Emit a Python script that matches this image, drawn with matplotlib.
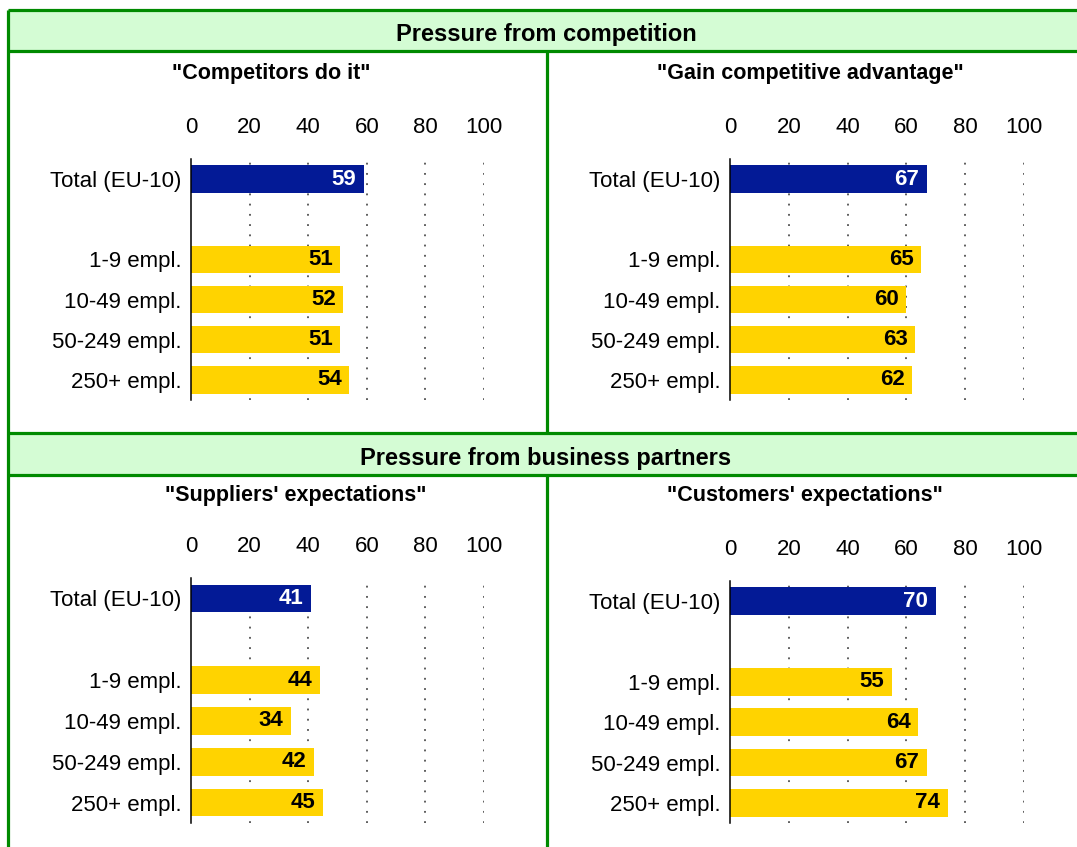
import matplotlib
matplotlib.use("Agg")
import matplotlib.pyplot as plt
from matplotlib.patches import Rectangle
from matplotlib.lines import Line2D

plt.rcParams['font.family'] = ['Liberation Sans', 'DejaVu Sans']

# ---- data ----
categories = ["Total (EU-10)", "", "1-9 empl.", "10-49 empl.", "50-249 empl.", "250+ empl."]
competitors_do_it = [59, None, 51, 52, 51, 54]
gain_advantage = [67, None, 65, 60, 63, 62]
suppliers_expect = [41, None, 44, 34, 42, 45]
customers_expect = [70, None, 55, 64, 67, 74]
x_ticks = [0, 20, 40, 60, 80, 100]

section_titles = ["Pressure from competition", "Pressure from business partners"]
panel_titles = ['"Competitors do it"', '"Gain competitive advantage"',
                '"Suppliers\' expectations"', '"Customers\' expectations"']

BLUE = "#031A96"
YELLOW = "#FFD300"
GREEN = "#008A00"
HEADER_FILL = "#D4FCD4"

W, H = 1077, 847
fig = plt.figure(figsize=(W / 100, H / 100), dpi=100)

# background layer in pixel coordinates for frames and headings
bg = fig.add_axes([0, 0, 1, 1])
bg.set_xlim(0, W)
bg.set_ylim(H, 0)
bg.axis("off")

for y0, y1 in [(10, 51), (433, 475)]:
    bg.add_patch(Rectangle((8, y0), W - 8, y1 - y0, facecolor=HEADER_FILL, edgecolor="none"))
lw = 2.3
for x0, y0, x1, y1 in [(8, 10, 8, H), (8, 10, W, 10), (8, 51, W, 51),
                       (8, 433, W, 433), (8, 475, W, 475),
                       (547, 51, 547, 433), (547, 475, 547, H)]:
    bg.add_line(Line2D([x0, x1], [y0, y1], color=GREEN, lw=lw, solid_capstyle="butt"))

bg.text(546, 34, section_titles[0], ha="center", va="center", fontsize=17, fontweight="bold")
bg.text(546, 459, section_titles[1], ha="center", va="center", fontsize=17, fontweight="bold")

title_pos = [(271, 74), (810, 74), (296, 496), (805, 496)]
for (tx, ty), t in zip(title_pos, panel_titles):
    bg.text(tx, ty, t, ha="center", va="center", fontsize=15.5, fontweight="bold")


def px_axes(x0, y0, x1, y1):
    return fig.add_axes([x0 / W, 1 - y1 / H, (x1 - x0) / W, (y1 - y0) / H])


def draw_panel(ax, values):
    n = len(categories)
    ax.set_xlim(0, 100)
    ax.set_ylim(n - 0.5, -0.5)
    for gx in x_ticks[1:]:
        ax.axvline(gx, color="#333333", lw=1.1, linestyle=(0, (1.2, 5.5)), zorder=1)
    for i, v in enumerate(values):
        if v is None:
            continue
        color = BLUE if i == 0 else YELLOW
        ax.barh(i, v, height=0.68, color=color, zorder=2)
        ax.annotate(str(v), (v, i), xytext=(-5.5, 0), textcoords="offset points",
                    ha="right", va="center", fontsize=16, fontweight="bold",
                    color="white" if i == 0 else "black", zorder=3)
    ax.set_yticks(range(n))
    ax.set_yticklabels(categories, fontsize=16)
    ax.set_xticks(x_ticks)
    ax.xaxis.tick_top()
    ax.tick_params(axis="x", length=0, pad=15, labelsize=16)
    ax.tick_params(axis="y", length=0, pad=7)
    for s in ["top", "right", "bottom"]:
        ax.spines[s].set_visible(False)
    ax.spines["left"].set_color("black")
    ax.spines["left"].set_linewidth(1.1)
    ax.spines["left"].set_zorder(4)
    ax.patch.set_alpha(0)


panels = [
    ((191, 159, 484, 400), competitors_do_it),
    ((730, 159, 1024, 400), gain_advantage),
    ((191, 578, 484, 823), suppliers_expect),
    ((730, 581, 1024, 823), customers_expect),
]
for box, vals in panels:
    draw_panel(px_axes(*box), vals)

fig.savefig("out.png", dpi=100)
